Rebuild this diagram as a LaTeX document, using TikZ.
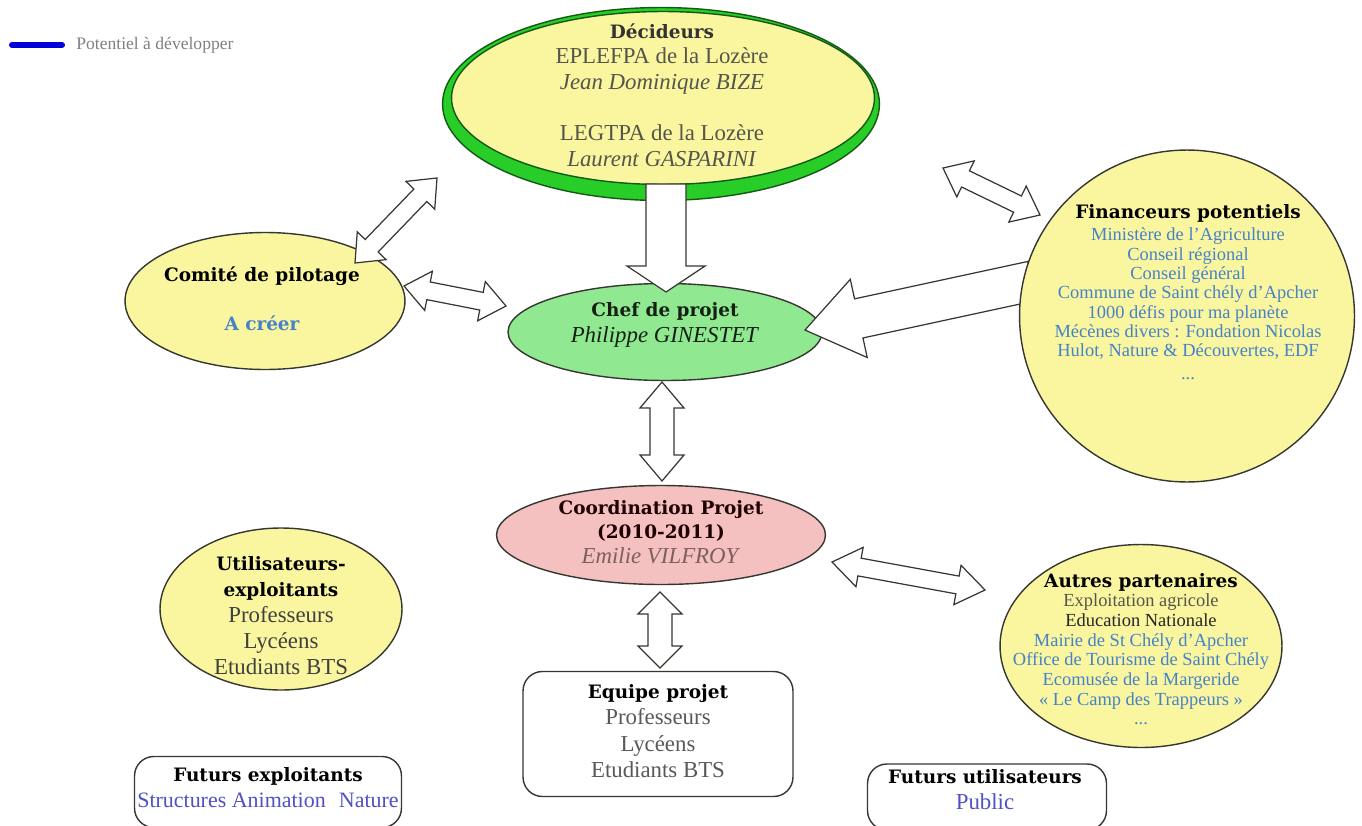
\documentclass[tikz,border=0pt]{standalone}
\usepackage{fontspec}
\setmainfont{Liberation Serif}
\newfontfamily\headfont{DejaVu Serif}
\usetikzlibrary{shapes.geometric, positioning, calc, backgrounds}

\definecolor{paleYellow}{RGB}{250,246,160}
\definecolor{chefGreen}{RGB}{144,232,144}
\definecolor{coordPink}{RGB}{245,192,192}
\definecolor{ringGreen}{RGB}{40,205,40}
\definecolor{darkRing}{RGB}{20,90,20}
\definecolor{listBlue}{RGB}{70,130,200}
\definecolor{futurBlue}{RGB}{80,80,200}
\definecolor{textGray}{RGB}{85,85,75}
\definecolor{edgeGray}{RGB}{55,55,50}

\newcommand{\hd}[1]{{\headfont\bfseries\fontsize{10.5}{13}\selectfont #1}}

% block arrow with one head, pointing at #2
\newcommand{\singleBlock}[5]{%
  \coordinate (ba1) at ($(#2)!#5!(#1)$);
  \draw[blockArrow] (#2) -- ($(ba1)!#4!90:(#1)$) -- ($(ba1)!#3!90:(#1)$) -- ($(#1)!#3!-90:(#2)$)
    -- ($(#1)!#3!90:(#2)$) -- ($(ba1)!#3!-90:(#1)$) -- ($(ba1)!#4!-90:(#1)$) -- cycle;
}
% block arrow with two heads
\newcommand{\doubleBlock}[5]{%
  \coordinate (da1) at ($(#1)!#5!(#2)$);
  \coordinate (da2) at ($(#2)!#5!(#1)$);
  \draw[blockArrow] (#1) -- ($(da1)!#4!90:(#2)$) -- ($(da1)!#3!90:(#2)$) -- ($(da2)!#3!-90:(#1)$)
    -- ($(da2)!#4!-90:(#1)$) -- (#2) -- ($(da2)!#4!90:(#1)$) -- ($(da2)!#3!90:(#1)$)
    -- ($(da1)!#3!-90:(#2)$) -- ($(da1)!#4!-90:(#2)$) -- cycle;
}

\tikzset{ellipseNode/.style={shape=ellipse, draw=edgeGray, line width=0.8pt, inner sep=0pt}}
\tikzset{roundBox/.style={shape=rectangle, rounded corners=11pt, draw=edgeGray, line width=0.8pt, fill=white, inner sep=0pt}}
\tikzset{blockArrow/.style={draw=edgeGray, fill=white, line width=0.7pt, line join=miter}}
\tikzset{textBlock/.style={align=center, inner sep=0pt}}

\begin{document}
\begin{tikzpicture}[x=0.02cm, y=-0.02cm]

\useasboundingbox (0,0) rectangle (1362,825);
\clip (0,0) rectangle (1362,825);
\fill[white] (0,0) rectangle (1362,825);

% legend
\coordinate (legA) at (12,45);
\coordinate (legB) at (62,45);
\draw[blue!85!black, line width=3.4pt, line cap=round] (legA) -- (legB);
\node[textBlock, anchor=west, text=gray, font=\fontsize{10}{12}\selectfont] (legend) at (76,45) {Potentiel à développer};

% ellipses
\node[ellipseNode, fill=paleYellow, minimum width=5.6cm, minimum height=2.74cm] (comite) at (265,301) {};
\node[ellipseNode, fill=chefGreen, minimum width=6.28cm, minimum height=1.94cm] (chef) at (665,332) {};
\node[ellipseNode, fill=coordPink, minimum width=6.58cm, minimum height=1.98cm] (coord) at (661,535) {};
\node[ellipseNode, fill=paleYellow, minimum width=4.84cm, minimum height=3.24cm] (util) at (281,609) {};
\node[ellipseNode, fill=paleYellow, minimum width=5.64cm, minimum height=4.06cm] (autres) at (1141,646) {};

% boxes
\node[roundBox, minimum width=5.4cm, minimum height=2.5cm] (equipe) at (658,734) {};
\node[roundBox, minimum width=5.34cm, minimum height=1.42cm] (fexp) at (268,792) {};
\node[roundBox, minimum width=4.78cm, minimum height=1.32cm] (futil) at (987,797) {};

% arrows
\coordinate (a1s) at (666,184);  \coordinate (a1e) at (666,292);
\coordinate (a2s) at (355,263);  \coordinate (a2e) at (437,178);
\coordinate (a3s) at (404,286);  \coordinate (a3e) at (506,306);
\coordinate (a4s) at (943,168);  \coordinate (a4e) at (1040,215);
\coordinate (a5s) at (1032,281); \coordinate (a5e) at (805,330);
\coordinate (a6s) at (662,382);  \coordinate (a6e) at (662,481);
\coordinate (a7s) at (832,562);  \coordinate (a7e) at (985,590);
\coordinate (a8s) at (660,592);  \coordinate (a8e) at (660,668);

\doubleBlock{a2s}{a2e}{0.18cm}{0.4cm}{0.48cm}
\doubleBlock{a3s}{a3e}{0.18cm}{0.4cm}{0.5cm}
\doubleBlock{a4s}{a4e}{0.18cm}{0.4cm}{0.5cm}
\singleBlock{a5s}{a5e}{0.4cm}{0.8cm}{1.1cm}
\doubleBlock{a6s}{a6e}{0.24cm}{0.44cm}{0.52cm}
\doubleBlock{a7s}{a7e}{0.18cm}{0.4cm}{0.56cm}
\doubleBlock{a8s}{a8e}{0.24cm}{0.44cm}{0.44cm}

% decideurs, green ring under a yellow one
\node[ellipseNode, draw=darkRing, fill=ringGreen, minimum width=8.74cm, minimum height=3.86cm] (deci) at (661,104) {};
\node[ellipseNode, draw=darkRing, fill=paleYellow, minimum width=8.46cm, minimum height=3.46cm] (deciIn) at (663,98) {};
\singleBlock{a1s}{a1e}{0.4cm}{0.78cm}{0.52cm}

% financeurs
\node[ellipseNode, fill=paleYellow, minimum width=6.7cm, minimum height=6.64cm] (finan) at (1187,316) {};

% texts
\node[textBlock, text=textGray, font=\fontsize{13}{14.6}\selectfont] (deciText) at (662,95)
  {\textcolor{black!80}{\hd{Décideurs}}\\EPLEFPA de la Lozère\\\textit{Jean Dominique BIZE}\\[14.6pt]LEGTPA de la Lozère\\\textit{Laurent GASPARINI}};
\node[textBlock, font=\fontsize{11}{13}\selectfont] (comiteText) at (262,299)
  {\hd{Comité de pilotage}\\[15pt]\textcolor{listBlue}{\hd{A créer}}};
\node[textBlock, text=black!30!chefGreen!20!black, font=\fontsize{13}{14.8}\selectfont] (chefText) at (665,325)
  {\hd{Chef de projet}\\\textit{Philippe GINESTET}};
\node[textBlock, text=listBlue, font=\fontsize{10.5}{11}\selectfont] (finanText) at (1188,292)
  {\textcolor{black}{\hd{Financeurs potentiels}}\\[2pt]Ministère de l'Agriculture\\Conseil régional\\Conseil général\\Commune de Saint chély d'Apcher\\1000 défis pour ma planète\\Mécènes divers : Fondation Nicolas\\Hulot, Nature \& Découvertes, EDF\\[2pt]...};
\node[textBlock, text=black!60!red!30!black, font=\fontsize{13}{14}\selectfont] (coordText) at (661,532)
  {\hd{Coordination Projet}\\\hd{(2010-2011)}\\\textcolor{black!55!red!25!gray}{\textit{Emilie VILFROY}}};
\node[textBlock, text=black!75, font=\fontsize{13}{14.8}\selectfont] (utilText) at (281,616)
  {\textcolor{black}{\hd{Utilisateurs-}}\\\textcolor{black}{\hd{exploitants}}\\Professeurs\\Lycéens\\Etudiants BTS};
\node[textBlock, text=listBlue, font=\fontsize{10.5}{11.2}\selectfont] (autresText) at (1141,649)
  {\textcolor{black}{\hd{Autres partenaires}}\\\textcolor{textGray}{Exploitation agricole}\\\textcolor{black!85}{Education Nationale}\\Mairie de St Chély d'Apcher\\Office de Tourisme de Saint Chély\\Ecomusée de la Margeride\\«~Le Camp des Trappeurs~»\\...};
\node[textBlock, text=black!65, font=\fontsize{13}{15}\selectfont] (equipeText) at (658,731)
  {\textcolor{black}{\hd{Equipe projet}}\\Professeurs\\Lycéens\\Etudiants BTS};
\node[textBlock, text=futurBlue, font=\fontsize{12.5}{14.8}\selectfont] (fexpText) at (268,788)
  {\textcolor{black}{\hd{Futurs exploitants}}\\Structures Animation\hspace{0.6em}Nature};
\node[textBlock, text=futurBlue, font=\fontsize{13}{14.8}\selectfont] (futilText) at (985,790)
  {\textcolor{black}{\hd{Futurs utilisateurs}}\\Public};

\end{tikzpicture}
\end{document}
